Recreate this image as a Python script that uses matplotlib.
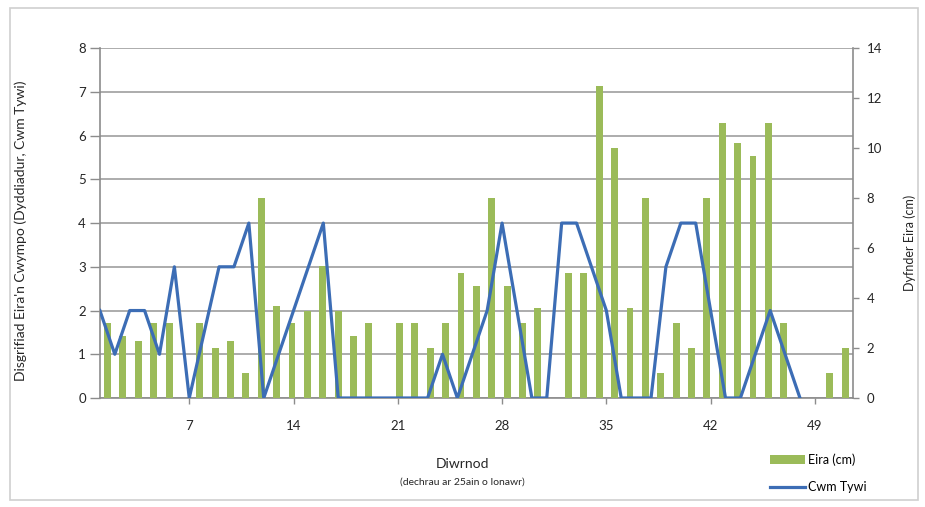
import numpy as np
import matplotlib
matplotlib.use("Agg")
import matplotlib.pyplot as plt
from matplotlib.patches import Rectangle

plt.rcParams['font.family'] = ['Lato', 'DejaVu Sans']

# snow depth bars (cm), one per day, right axis
eira_cm = [3, 2.5, 2.3, 3, 3, 0, 3, 2, 2.3, 1, 8, 3.7, 3, 3.5, 5.3, 3.5, 2.5,
           3, 0, 3, 3, 2, 3, 5, 4.5, 8, 4.5, 3, 3.6, 0, 5, 5, 12.5, 10, 3.6, 8,
           1, 3, 2, 8, 11, 10.2, 9.7, 11, 3, 0, 0, 1, 2]

# diary snowfall description, Cwm Tywi, left axis
cwm_tywi = [2, 1, 2, 2, 1, 3, 0, 1.5, 3, 3, 4, 0, 1, 2, 3, 4, 0, 0, 0, 0, 0,
            0, 0, 1, 0, 1, 2, 4, 2, 0, 0, 4, 4, 3, 2, 0, 0, 0, 3, 4, 4, 2, 0,
            0, 1, 2, 1, 0]

day_ticks = [7, 14, 21, 28, 35, 42, 49]
left_ticks = [0, 1, 2, 3, 4, 5, 6, 7, 8]
right_ticks = [0, 2, 4, 6, 8, 10, 12, 14]

green = '#9bbb59'
blue = '#3c6db5'
axcol = '#8c8c8c'
txt = '#262626'

fig = plt.figure(figsize=(9.25, 5.07), dpi=100)
rect = [0.108, 0.215, 0.814, 0.690]

# base axes: left scale, grid, day ticks
ax = fig.add_axes(rect, zorder=1)
ax.set_xlim(1, 51.55)
ax.set_ylim(0, 8)
ax.set_yticks(left_ticks)
ax.set_xticks(day_ticks)
ax.grid(axis='y', color='#a6a6a6', linewidth=1.3)
ax.set_axisbelow(True)
for s in ['top', 'right']:
    ax.spines[s].set_visible(False)
for s in ['left', 'bottom']:
    ax.spines[s].set_color(axcol)
    ax.spines[s].set_linewidth(1.2)
ax.tick_params(axis='y', length=7, width=1, color=axcol, labelsize=9.5,
               labelcolor=txt, pad=3)
ax.tick_params(axis='x', length=4, width=1, color=axcol, labelsize=9.5,
               labelcolor=txt, pad=12)

# bars: own category axis, right scale
axb = fig.add_axes(rect, zorder=2, label='bars')
axb.patch.set_visible(False)
xb = np.arange(len(eira_cm))
bars = axb.bar(xb, eira_cm, width=0.45, color=green, label='Eira (cm)')
axb.set_xlim(-0.5, len(eira_cm) - 0.5)
axb.set_ylim(0, 14)
axb.set_yticks(right_ticks)
axb.yaxis.tick_right()
axb.set_xticks([])
for s in ['top', 'left', 'bottom']:
    axb.spines[s].set_visible(False)
axb.spines['right'].set_color(axcol)
axb.spines['right'].set_linewidth(1.2)
axb.tick_params(axis='y', length=4, width=1, color=axcol, labelsize=9.5,
                labelcolor=txt, pad=6)

# line on top
axl = fig.add_axes(rect, zorder=3, label='line', sharex=ax, sharey=ax)
axl.patch.set_visible(False)
axl.axis('off')
days = np.arange(1, len(cwm_tywi) + 1)
line, = axl.plot(days, cwm_tywi, color=blue, linewidth=2.3, label='Cwm Tywi')

fig.text(0.022, 0.545, "Disgrifiad Eira'n Cwympo (Dyddiadur, Cwm Tywi)",
         rotation=90, ha='center', va='center', fontsize=10, color=txt)
fig.text(0.984, 0.52, 'Dyfnder Eira (cm)', rotation=90, ha='center',
         va='center', fontsize=9, color=txt)
fig.text(0.50, 0.085, 'Diwrnod', ha='center', va='center', fontsize=10,
         color=txt)
fig.text(0.50, 0.050, '(dechrau ar 25ain o Ionawr)', ha='center',
         va='center', fontsize=7.5, color=txt)

fig.legend([bars, line], ['Eira (cm)', 'Cwm Tywi'], loc='upper left',
           bbox_to_anchor=(0.826, 0.118), frameon=False, fontsize=9,
           handlelength=2.8, handleheight=0.7, handletextpad=0.2,
           labelspacing=1.2, borderpad=0)

fig.patches.append(Rectangle((0.011, 0.014), 0.981, 0.970,
                             transform=fig.transFigure, fill=False,
                             edgecolor='#cfcfcf', linewidth=1.2))

fig.savefig('out.png', dpi=100)
